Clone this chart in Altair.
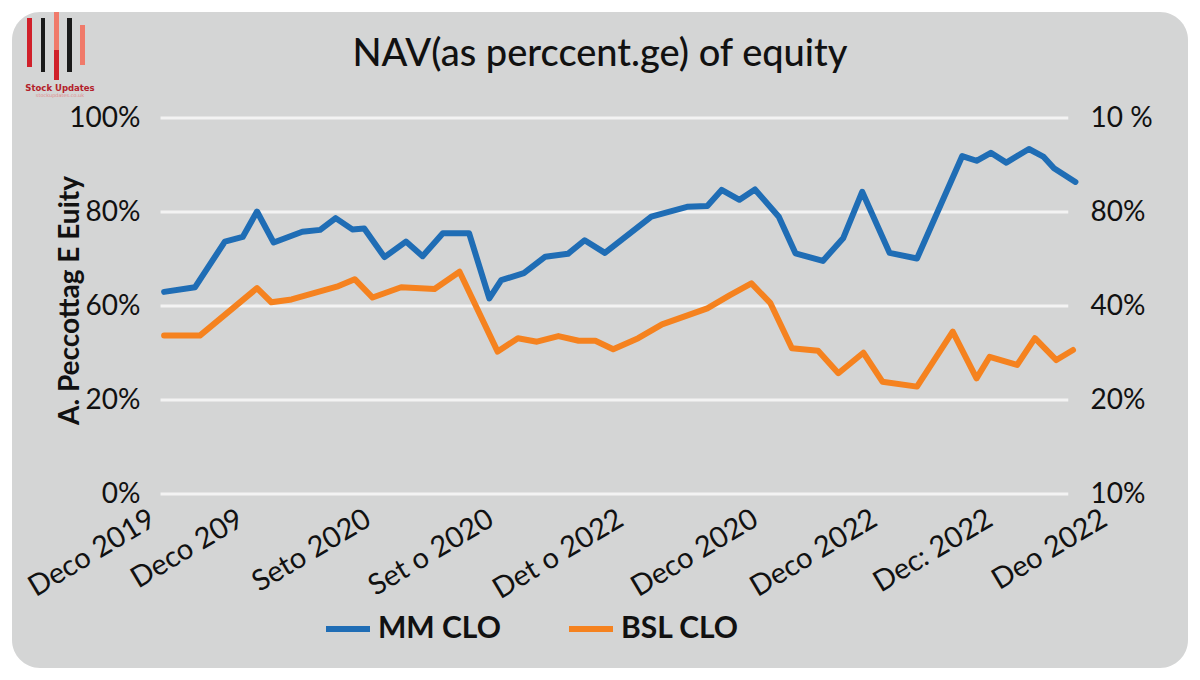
import altair as alt
import pandas as pd

TITLE = "NAV(as perccent.ge) of equity"
Y_TITLE = "A. Peccottag E Euity"
X_TICKS = [0.0, 0.74, 1.81, 2.84, 3.93, 5.06, 6.06, 7.03, 7.99]
X_LABELS = ["Deco 2019", "Deco 209", "Seto 2020", "Set o 2020", "Det o 2022",
            "Deco 2020", "Deco 2022", "Dec: 2022", "Deo 2022"]
LEFT_TICKS = [0, 20, 60, 80, 100]
RIGHT_LABELS = ["10%", "20%", "40%", "80%", "10 %"]
SERIES = ["MM CLO", "BSL CLO"]
COLORS = ["#1f6db5", "#f5821f"]

MM_T = [0.11, 0.37, 0.62, 0.77, 0.89, 1.03, 1.27, 1.42, 1.55, 1.69, 1.79, 1.96, 2.14, 2.28, 2.45,
        2.67, 2.84, 2.94, 3.13, 3.31, 3.50, 3.64, 3.81, 4.20, 4.50, 4.67, 4.79, 4.94, 5.07, 5.27,
        5.41, 5.64, 5.81, 5.97, 6.20, 6.43, 6.81, 6.93, 7.05, 7.18, 7.37, 7.49, 7.58, 7.76]
MM_V = [63.0, 64.0, 73.7, 74.7, 80.1, 73.5, 75.8, 76.2, 78.7, 76.3, 76.5, 70.4, 73.7, 70.6, 75.5,
        75.5, 61.6, 65.5, 67.0, 70.5, 71.1, 74.0, 71.3, 79.0, 81.1, 81.3, 84.7, 82.6, 84.8, 79.0,
        71.2, 69.6, 74.4, 84.3, 71.3, 70.1, 91.9, 90.9, 92.6, 90.5, 93.4, 91.8, 89.3, 86.4]
BSL_T = [0.11, 0.41, 0.89, 1.01, 1.18, 1.56, 1.71, 1.86, 2.10, 2.38, 2.59, 2.91, 3.08, 3.24, 3.42,
         3.59, 3.73, 3.88, 4.09, 4.29, 4.67, 4.86, 5.04, 5.20, 5.38, 5.60, 5.77, 5.98, 6.14, 6.43,
         6.73, 6.93, 7.04, 7.27, 7.42, 7.60, 7.74]
BSL_V = [47.4, 47.4, 63.8, 60.8, 61.4, 64.1, 65.7, 61.8, 64.0, 63.6, 67.3, 40.6, 46.3, 44.8, 47.2,
         45.2, 45.2, 41.6, 46.3, 52.2, 59.0, 62.3, 64.8, 60.6, 42.0, 41.0, 31.4, 40.1, 27.8, 25.7,
         49.1, 29.2, 38.4, 34.9, 46.3, 37.0, 41.3]
GRID_FROM, GRID_TO = 0.08, 7.70

W, H = 953, 376
FONT = "Lato"

lines_df = pd.DataFrame(
    {"t": MM_T + BSL_T,
     "v": MM_V + BSL_V,
     "series": [SERIES[0]] * len(MM_T) + [SERIES[1]] * len(BSL_T)}
)
grid_df = pd.DataFrame({"level": LEFT_TICKS})
one = alt.Data(values=[{}])

x_scale = alt.Scale(domain=[0, 8], nice=False, zero=False)
y_scale = alt.Scale(domain=LEFT_TICKS, range=[H, H * 3 / 4, H / 2, H / 4, 0], nice=False, zero=False)

x_axis = alt.Axis(values=X_TICKS,
                  labelExpr=str(X_LABELS) + "[indexof(" + str(X_TICKS) + ", datum.value)]",
                  title=None, labelAngle=-31, labelAlign="right", labelBaseline="top",
                  labelPadding=10, labelOffset=-6,
                  labelFontSize=29, labelFont=FONT, labelColor="#111", domain=False, ticks=False,
                  grid=False, labelLimit=0, labelOverlap=False, labelBound=False,
                  labelFlush=False, zindex=2)
left_axis = alt.Axis(values=LEFT_TICKS, labelExpr="datum.value + '%'", title=Y_TITLE,
                     labelFontSize=28, labelFont=FONT, labelColor="#111", labelPadding=11,
                     domain=False, ticks=False, grid=False, zindex=2, labelOverlap=False,
                     titleFont=FONT, titleFontSize=28, titleFontWeight="bold", titleColor="#111",
                     titleAngle=-90, titleX=-81, titleY=H / 2 - 6, titleAlign="center",
                     titleBaseline="middle")
right_axis = alt.Axis(orient="right", values=LEFT_TICKS,
                      labelExpr=str(RIGHT_LABELS) + "[indexof(" + str(LEFT_TICKS) + ", datum.value)]",
                      title=None, labelFontSize=28, labelFont=FONT, labelColor="#111",
                      labelPadding=0, offset=-14, domain=False, ticks=False, grid=False,
                      zindex=2, labelOverlap=False)

panel = alt.Chart(one).mark_rect(cornerRadius=28, color="#d4d5d5").encode(
    x=alt.value(-139), x2=alt.value(1037), y=alt.value(-106), y2=alt.value(550))

def bar(x1, x2, y1, y2, c):
    return alt.Chart(one).mark_rect(color=c).encode(
        x=alt.value(x1), x2=alt.value(x2), y=alt.value(y1), y2=alt.value(y2))

logo = [
    bar(-124, -119, -100, -51, "#d0202a"),
    bar(-110, -106, -100, -46, "#1a1a1a"),
    bar(-97, -92, -106, -68, "#f07a6a"),
    bar(-97, -92, -68, -38, "#d0202a"),
    bar(-84, -79, -100, -46, "#1a1a1a"),
    bar(-71, -66, -93, -53, "#f07a6a"),
    alt.Chart(one).mark_text(text="Stock Updates", font="DejaVu Sans", fontSize=8.5,
                             fontWeight="bold", color="#b3202a").encode(
        x=alt.value(-91), y=alt.value(-30)),
    alt.Chart(one).mark_text(text="stockupdates.co.uk", font="DejaVu Sans", fontSize=5,
                             color="#e08a8a").encode(x=alt.value(-91), y=alt.value(-23)),
]

title = alt.Chart(one).mark_text(text=TITLE, font=FONT, fontSize=38, fontWeight=500,
                                 color="#111", align="center", baseline="alphabetic").encode(
    x=alt.value(449), y=alt.value(-52))

grid = alt.Chart(grid_df).mark_rule(color="#f3f3f3", strokeWidth=3).encode(
    y=alt.Y("level:Q", scale=y_scale, axis=left_axis),
    x=alt.X(datum=GRID_FROM, scale=x_scale, axis=x_axis),
    x2=alt.X2(datum=GRID_TO),
)

lines = alt.Chart(lines_df).mark_line(strokeWidth=6, strokeCap="round", strokeJoin="round").encode(
    x=alt.X("t:Q", scale=x_scale, axis=x_axis),
    y=alt.Y("v:Q", scale=y_scale, axis=left_axis),
    color=alt.Color("series:N", sort=SERIES,
                    scale=alt.Scale(domain=SERIES, range=COLORS),
                    legend=alt.Legend(title=None, orient="none", legendX=172, legendY=486,
                                      direction="horizontal", symbolType="stroke",
                                      symbolStrokeWidth=6, symbolSize=1936,
                                      labelFontSize=30, labelFontWeight="bold", labelFont=FONT,
                                      labelColor="#111", labelOffset=5, columnPadding=56,
                                      padding=0, zindex=2)),
    detail="series:N",
)

right = alt.Chart(grid_df).mark_point(opacity=0).encode(
    y=alt.Y("level:Q", scale=y_scale, axis=right_axis),
)

inner = alt.layer(panel, *logo, title, grid, lines)
chart = alt.layer(inner, right).resolve_scale(y="independent").properties(
    width=W, height=H,
    autosize=alt.AutoSizeParams(type="none"),
    padding={"left": 143, "top": 110, "right": 88, "bottom": 176},
    background="white",
).configure_view(stroke=None)

chart.save("out.html", embed_options={"renderer": "svg", "actions": False})
